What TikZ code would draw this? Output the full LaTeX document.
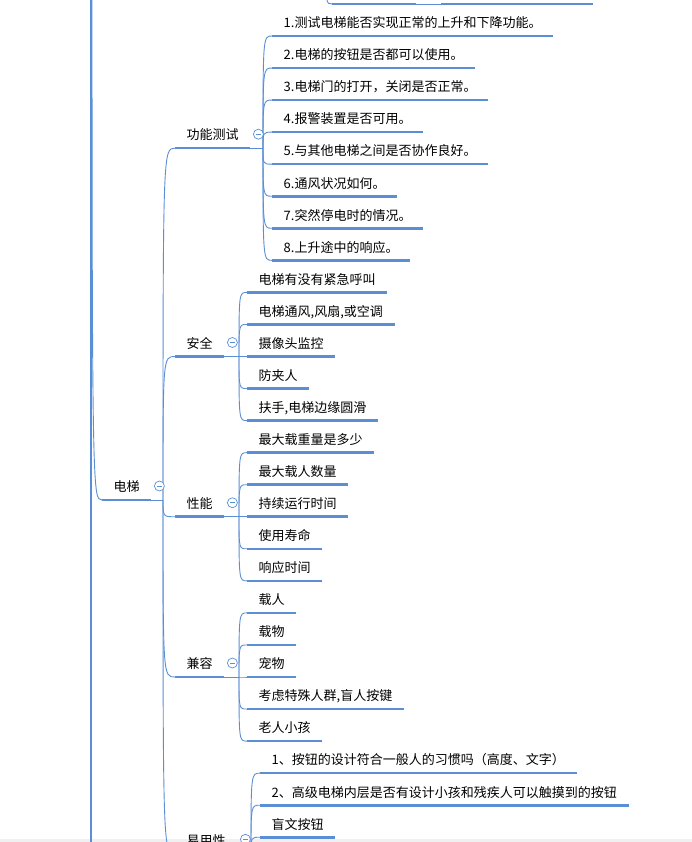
\documentclass[tikz,border=0pt]{standalone}
\usepackage{fontspec}
\newfontfamily\cjk{Noto Sans CJK SC}
\usepackage{tikz}
\usetikzlibrary{calc}
\definecolor{mapblue}{RGB}{91,143,213}
\tikzset{
  mmtopic/.style={font=\cjk\fontsize{13pt}{15pt}\selectfont, anchor=south west, inner xsep=11.5pt, inner ysep=5pt, text height=10pt, text depth=3pt},
  mmline/.style={draw=mapblue, line width=2.6pt},
  mmthin/.style={draw=mapblue, line width=0.9pt},
  mmfold/.style={circle, draw=mapblue, line width=0.7pt, fill=white, minimum size=10pt, inner sep=0pt,
    path picture={\draw[mapblue, line width=0.7pt] ([xshift=-2.6pt]path picture bounding box.center) -- ([xshift=2.6pt]path picture bounding box.center);}}
}
\begin{document}
\begin{tikzpicture}[x=1pt,y=-1pt]
  \clip (0,0) rectangle (692,842);
  \fill[white] (0,0) rectangle (692,842);
  \fill[black!6] (0,839) rectangle (692,842);

  % branch cut off at the top edge
  \coordinate (ta) at (332,4);
  \coordinate (tb) at (416,4);
  \coordinate (tc) at (441,4);
  \coordinate (td) at (593,4);
  \coordinate (tj) at (326,-40);
  \draw[mmthin] (tj) .. controls (tj |- ta) .. (ta);
  \draw[mmline] (ta) -- (tb);
  \draw[mmthin] (tb) -- (tc);
  \draw[mmline] (tc) -- (td);

  % left edge line
  \coordinate (vt) at (91,0);
  \coordinate (vb) at (91,842);
  \draw[mmline] (vt) -- (vb);

  % root
  \node[mmtopic] (dt) at (102,500) {电梯};
  \coordinate (rj) at (92,-200);
  \draw[mmthin] (rj) .. controls (rj |- dt.south west) .. (dt.south west);
  \draw[mmline] (dt.south west) -- (dt.south east);

  % main branches
  \node[mmtopic] (gn) at (175,148.2) {功能测试};
  \node[mmtopic] (aq) at (175,356.5) {安全};
  \node[mmtopic] (xn) at (175,516.75) {性能};
  \node[mmtopic] (jr) at (175,677) {兼容};
  \node[mmtopic] (yy) at (175,853.3) {易用性};

  \coordinate (dtj) at (163,500);
  \draw[mmthin] (dt.south east) -- (dtj);
  \foreach \n in {gn,aq,xn,jr,yy} {
    \draw[mmthin] (dtj) .. controls (dtj |- \n.south west) .. (\n.south west);
    \draw[mmline] (\n.south west) -- (\n.south east);
  }

  % junctions of the main branches
  \coordinate (gnj) at (263,148.2);
  \coordinate (aqj) at (239,356.5);
  \coordinate (xnj) at (239,516.75);
  \coordinate (jrj) at (239,677);
  \coordinate (yyj) at (251,853.3);
  \foreach \n in {gn,aq,xn,jr,yy}
    \draw[mmthin] (\n.south east) -- (\n j);

  % 功能测试
  \foreach \t [count=\i] in {1.测试电梯能否实现正常的上升和下降功能。, 2.电梯的按钮是否都可以使用。,
      3.电梯门的打开，关闭是否正常。, 4.报警装置是否可用。, 5.与其他电梯之间是否协作良好。,
      6.通风状况如何。, 7.突然停电时的情况。, 8.上升途中的响应。} {
    \node[mmtopic] (f\i) at (272,{36+32.05*(\i-1)}) {\t};
    \draw[mmthin] (gnj) .. controls (gnj |- f\i.south west) .. (f\i.south west);
    \draw[mmline] (f\i.south west) -- (f\i.south east);
  }

  % 安全
  \foreach \t [count=\i] in {电梯有没有紧急呼叫, {电梯通风,风扇,或空调}, 摄像头监控, 防夹人, {扶手,电梯边缘圆滑}} {
    \node[mmtopic] (s\i) at (247,{292.4+32.05*(\i-1)}) {\t};
    \draw[mmthin] (aqj) .. controls (aqj |- s\i.south west) .. (s\i.south west);
    \draw[mmline] (s\i.south west) -- (s\i.south east);
  }

  % 性能
  \foreach \t [count=\i] in {最大载重量是多少, 最大载人数量, 持续运行时间, 使用寿命, 响应时间} {
    \node[mmtopic] (p\i) at (247,{452.65+32.05*(\i-1)}) {\t};
    \draw[mmthin] (xnj) .. controls (xnj |- p\i.south west) .. (p\i.south west);
    \draw[mmline] (p\i.south west) -- (p\i.south east);
  }

  % 兼容
  \foreach \t [count=\i] in {载人, 载物, 宠物, {考虑特殊人群,盲人按键}, 老人小孩} {
    \node[mmtopic] (c\i) at (247,{612.9+32.05*(\i-1)}) {\t};
    \draw[mmthin] (jrj) .. controls (jrj |- c\i.south west) .. (c\i.south west);
    \draw[mmline] (c\i.south west) -- (c\i.south east);
  }

  % 易用性
  \foreach \t [count=\i] in {1、按钮的设计符合一般人的习惯吗（高度、文字）, 2、高级电梯内层是否有设计小孩和残疾人可以触摸到的按钮, 盲文按钮} {
    \node[mmtopic] (u\i) at (260,{773.15+32.05*(\i-1)}) {\t};
    \draw[mmthin] (yyj) .. controls (yyj |- u\i.south west) .. (u\i.south west);
    \draw[mmline] (u\i.south west) -- (u\i.south east);
  }

  % fold marks
  \foreach \n in {dt,gn,aq,xn,jr,yy}
    \node[mmfold] (\n k) at ($(\n.south east)+(8,-14)$) {};
\end{tikzpicture}
\end{document}
